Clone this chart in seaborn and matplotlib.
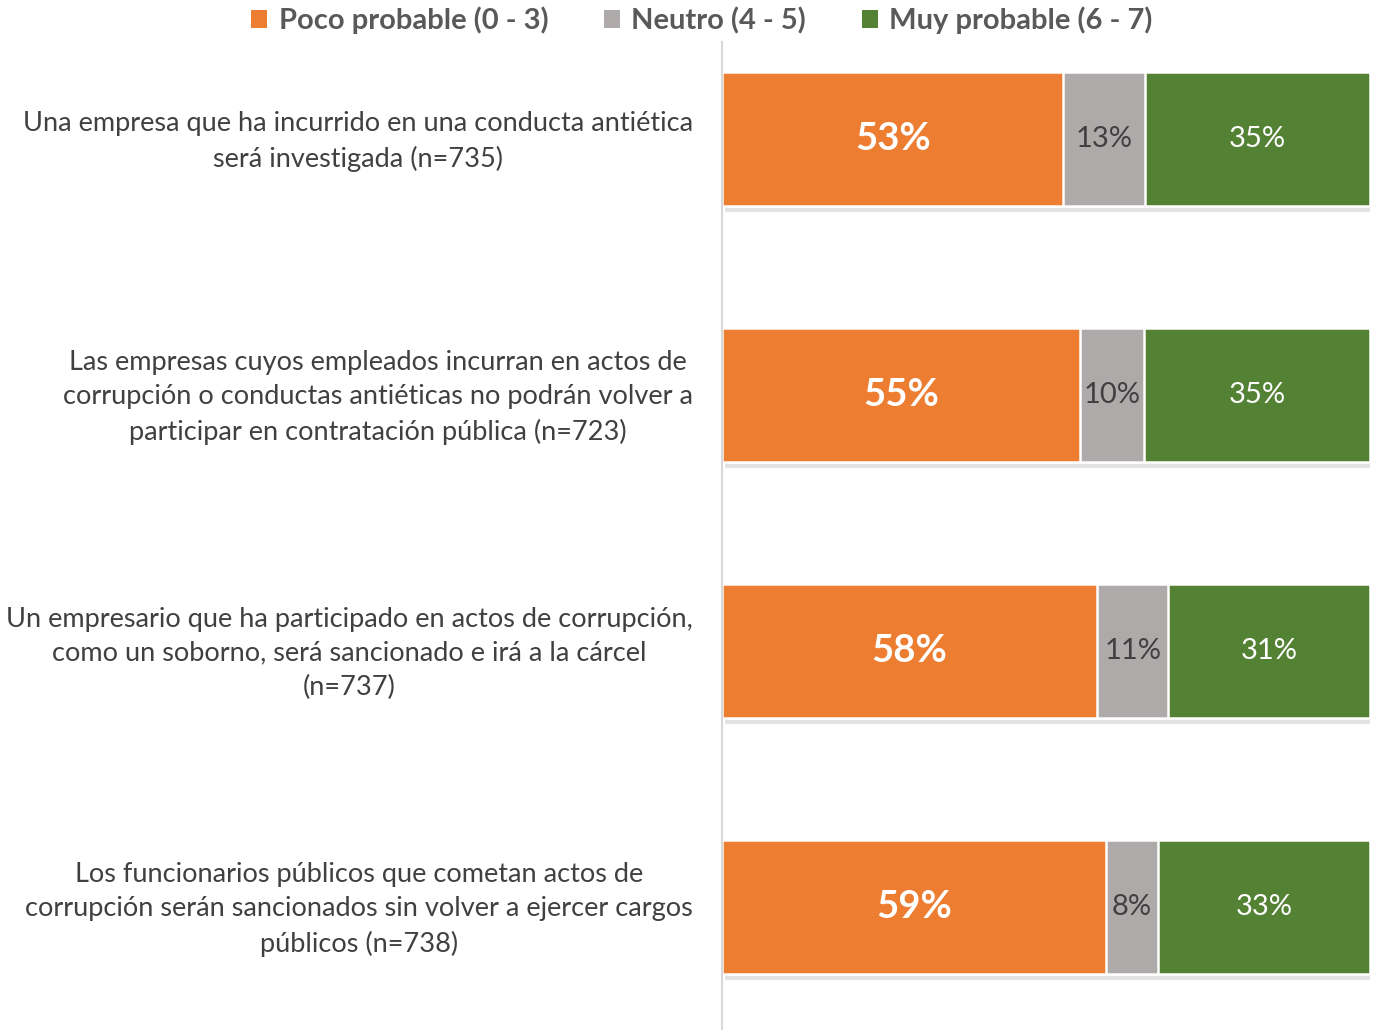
import pandas as pd
import matplotlib.pyplot as plt
import matplotlib.patheffects as pe
import matplotlib.transforms as mtransforms
from matplotlib.patches import Patch
import seaborn as sns

preguntas = [
    'Una empresa que ha incurrido en una conducta antiética\nserá investigada (n=735)',
    'Las empresas cuyos empleados incurran en actos de\ncorrupción o conductas antiéticas no podrán volver a\nparticipar en contratación pública (n=723)',
    'Un empresario que ha participado en actos de corrupción,\ncomo un soborno, será sancionado e irá a la cárcel\n(n=737)',
    'Los funcionarios públicos que cometan actos de\ncorrupción serán sancionados sin volver a ejercer cargos\npúblicos (n=738)',
]
poco = [52.7, 55.2, 57.9, 59.3]
neutro = [12.6, 9.9, 11.0, 8.0]
muy = [34.7, 34.9, 31.1, 32.7]

series = ['Poco probable (0 - 3)', 'Neutro (4 - 5)', 'Muy probable (6 - 7)']
colores = ['#ED7D31', '#AEAAAA', '#548235']

df = pd.DataFrame({'pregunta': preguntas, 'poco': poco, 'neutro': neutro, 'muy': muy})
df['c1'] = df['poco']
df['c2'] = df['poco'] + df['neutro']
df['c3'] = df['c2'] + df['muy']

sns.set_style('white')
plt.rcParams['font.family'] = ['Lato', 'DejaVu Sans']

fig = plt.figure(figsize=(13.76, 10.30), dpi=100)
ax = fig.add_axes([0.5247, 0.0, 0.4709, 0.959])

# stacked bars drawn as cumulative overlays
shadow = [pe.SimplePatchShadow(offset=(2, -4), shadow_rgbFace='#808080', alpha=0.22), pe.Normal()]
for col, color in zip(['c3', 'c2', 'c1'], colores[::-1]):
    sns.barplot(data=df, x=col, y='pregunta', orient='h', color=color, saturation=1,
                width=0.523, edgecolor='white', linewidth=1.8, ax=ax)
for p in ax.patches[:4]:
    p.set_path_effects(shadow)

txt = dict(ha='center', va='center')
for i, r in df.iterrows():
    ax.text(r['poco'] / 2, i, f"{round(r['poco'])}%", color='white', fontsize=27.5,
            fontweight='bold', **txt)
    ax.text(r['c1'] + r['neutro'] / 2, i, f"{round(r['neutro'])}%", color='#404040',
            fontsize=21, **txt)
    ax.text(r['c2'] + r['muy'] / 2, i, f"{round(r['muy'])}%", color='white',
            fontsize=21, **txt)

ax.set_xlim(0, 100)
ax.set_ylim(3.48, -0.379)
ax.set_xlabel('')
ax.set_ylabel('')
ax.set_xticks([])
sns.despine(ax=ax, top=True, right=True, bottom=True)
ax.spines['left'].set_color('#D9D9D9')
ax.spines['left'].set_linewidth(1.5)
ax.tick_params(axis='y', length=0, pad=21)
up = mtransforms.ScaledTranslation(0, 5 / 100, fig.dpi_scale_trans)
for lbl in ax.get_yticklabels():
    lbl.set_multialignment('center')
    lbl.set_fontsize(19.5)
    lbl.set_color('#404040')
    lbl.set_linespacing(1.46)
    lbl.set_transform(lbl.get_transform() + up)

handles = [Patch(facecolor=c, edgecolor='none') for c in colores]
fig.legend(handles, series, loc='upper center', bbox_to_anchor=(0.510, 1.019), ncol=3,
           frameon=False, handlelength=0.55, handleheight=0.55, handletextpad=0.4,
           columnspacing=1.9, prop={'size': 21, 'weight': 'bold'}, labelcolor='#595959')

fig.savefig('out.png', dpi=100, facecolor='white')
